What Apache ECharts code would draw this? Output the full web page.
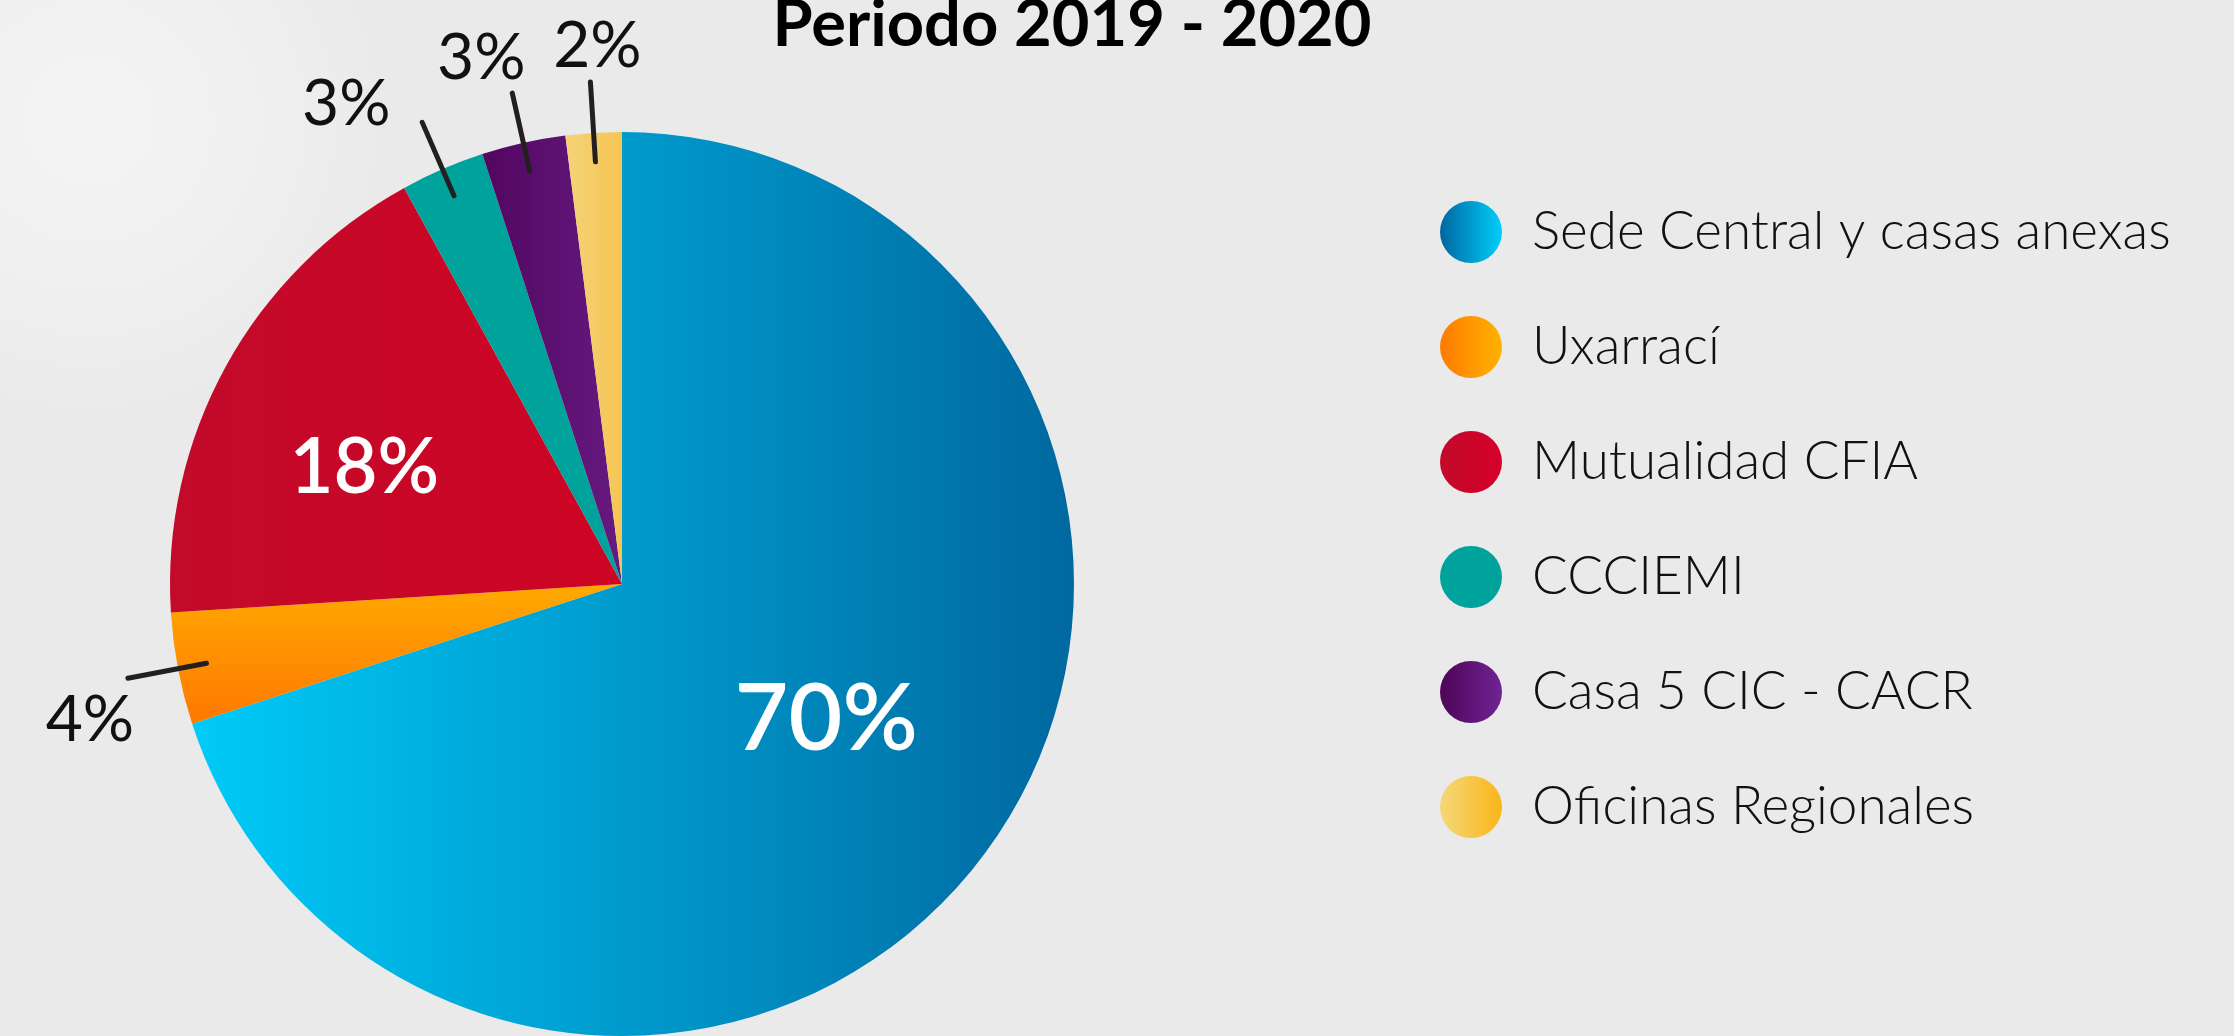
<!DOCTYPE html>
<html>
<head>
<meta charset="utf-8">
<title>Periodo 2019 - 2020</title>
<script src="https://cdn.jsdelivr.net/npm/echarts@6/dist/echarts.min.js"></script>
<style>
  html, body { margin: 0; padding: 0; background: #eaeaea; }
  #chart { width: 2234px; height: 1036px; }
</style>
</head>
<body>
<div id="chart"></div>
<script>
// ---- data ----
const categories = [
  'Sede Central y casas anexas',
  'Uxarrací',
  'Mutualidad CFIA',
  'CCCIEMI',
  'Casa 5 CIC - CACR',
  'Oficinas Regionales'
];
const shares = [70, 4, 18, 3, 3, 2];
const titleText = 'Periodo 2019 - 2020';

// ---- styling ----
function lin(x2, y2, from, to) {
  return { type: 'linear', x: 0, y: 0, x2: x2, y2: y2,
    colorStops: [{ offset: 0, color: from }, { offset: 1, color: to }] };
}
const sliceFill = [
  lin(1, 0, '#00CBF8', '#0068A0'),
  lin(0, 1, '#FFA900', '#FF7800'),
  lin(1, 0, '#C20A2A', '#CE0424'),
  '#00A39B',
  lin(1, 0, '#520660', '#661A80'),
  lin(1, 0, '#F4D379', '#F6C453')
];
const swatchFill = [
  lin(1, 0, '#0066A0', '#00CFFA'),
  lin(1, 0, '#FF7A00', '#FFB300'),
  lin(1, 0, '#C20A2A', '#D6002A'),
  '#00A39B',
  lin(1, 0, '#4D0557', '#702394'),
  lin(1, 0, '#F5D77A', '#F9B618')
];
// big slices carry their label inside; the rest get a leader line
const insideMin = 10;
// label nudges (px); outside ones are relative to the leader's outer end
const labelShift = [[19, 1], [-38, 42], [-57, -5], [-76, -18], [-31, -35], [7, -36]];
const labelGap = 5;        // pie's default gap between leader end and its text

const pieCenter = [622, 584];
const pieRadius = 452;
const leaderStart = 423;   // leaders begin inside their slice
const leaderLength = 80;
const transparent = 'rgba(0,0,0,0)';

const chart = echarts.init(document.getElementById('chart'), null, { renderer: 'canvas' });

const isInside = i => shares[i] >= insideMin;

// visible slices with the inside labels
const sliceData = categories.map((name, i) => ({
  name: name,
  value: shares[i],
  itemStyle: { color: sliceFill[i] },
  label: isInside(i)
    ? { show: true, position: 'inside', color: '#ffffff', fontSize: i === 0 ? 93 : 76, fontWeight: 600 }
    : { show: false }
}));

// invisible ring, drawn above the slices, that only draws the leader lines
const leaderData = categories.map((name, i) => ({
  name: name,
  value: shares[i],
  itemStyle: { color: transparent },
  label: { show: !isInside(i) },
  labelLine: { show: !isInside(i) }
}));

// invisible ring that only places the outside percentage texts
const outsideTextData = categories.map((name, i) => ({
  name: name,
  value: shares[i],
  itemStyle: { color: transparent },
  label: { show: !isInside(i) }
}));

const ringBase = {
  type: 'pie',
  z: 4,
  center: pieCenter,
  radius: [0, leaderStart],
  startAngle: 90,
  clockwise: true,
  avoidLabelOverlap: false,
  silent: true
};

chart.setOption({
  backgroundColor: '#eaeaea',
  animation: false,
  graphic: [
    {
      type: 'ellipse', z: -10, silent: true,
      shape: { cx: 90, cy: 120, rx: 300, ry: 420 },
      style: {
        fill: { type: 'radial', x: 0.5, y: 0.5, r: 0.5,
          colorStops: [
            { offset: 0, color: 'rgba(255,255,255,0.5)' },
            { offset: 0.6, color: 'rgba(255,255,255,0.25)' },
            { offset: 1, color: 'rgba(255,255,255,0)' }
          ] }
      }
    },
    {
      type: 'text', z: 10, silent: true,
      x: 1072, y: 25,
      style: {
        text: titleText,
        fill: '#000000',
        fontFamily: 'Lato',
        fontWeight: 'bold',
        fontSize: 65,
        align: 'center',
        verticalAlign: 'middle'
      }
    }
  ],
  legend: {
    orient: 'vertical',
    left: 1440,
    top: 201,
    padding: 0,
    icon: 'circle',
    itemWidth: 62,
    itemHeight: 62,
    itemGap: 53,
    selectedMode: false,
    textStyle: {
      fontFamily: 'Lato', fontWeight: 300, fontSize: 53, color: '#111111',
      padding: [0, 0, 0, 25]
    },
    data: categories.map((name, i) => ({ name: name, itemStyle: { color: swatchFill[i] } }))
  },
  series: [
    {
      type: 'pie',
      z: 2,
      center: pieCenter,
      radius: [0, pieRadius],
      startAngle: 90,
      clockwise: true,
      avoidLabelOverlap: false,
      silent: true,
      data: sliceData,
      label: { formatter: '{c}%', fontFamily: 'Lato' },
      labelLine: { show: false },
      labelLayout: function (p) {
        const s = labelShift[p.dataIndex];
        return { dx: s[0], dy: s[1], hideOverlap: false };
      }
    },
    Object.assign({}, ringBase, {
      data: leaderData,
      // a tiny invisible anchor text keeps every leader from being culled as overlapping
      label: { position: 'outside', formatter: '.', fontSize: 2, color: transparent, distanceToLabelLine: 0 },
      labelLayout: { hideOverlap: false },
      labelLine: {
        length: leaderLength,
        length2: 0,
        smooth: false,
        showAbove: true,
        lineStyle: { color: '#231F20', width: 5, cap: 'round' }
      }
    }),
    Object.assign({}, ringBase, {
      data: outsideTextData,
      label: {
        position: 'outside',
        formatter: '{c}%',
        fontFamily: 'Lato',
        fontSize: 64,
        color: '#111111',
        distanceToLabelLine: labelGap
      },
      labelLine: { show: false, length: leaderLength, length2: 0 },
      labelLayout: function (p) {
        const s = labelShift[p.dataIndex];
        return { align: 'center', dx: s[0] + labelGap, dy: s[1], hideOverlap: false };
      }
    })
  ]
});
</script>
</body>
</html>
